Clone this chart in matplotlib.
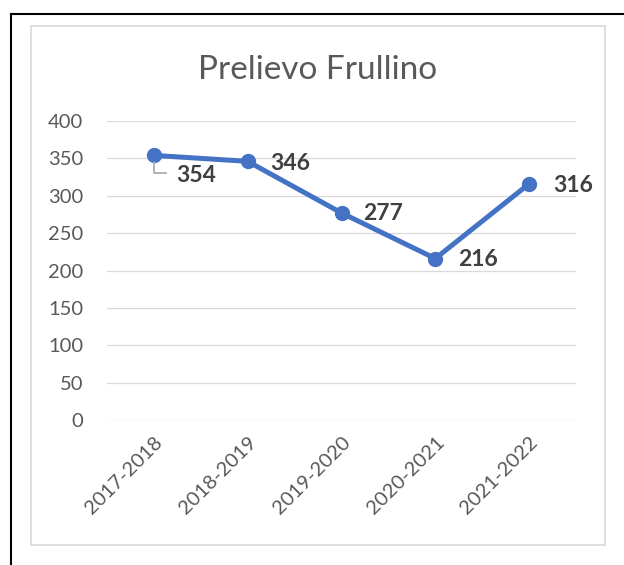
import matplotlib.pyplot as plt
from matplotlib.patches import Rectangle
from matplotlib.lines import Line2D

seasons = ['2017-2018', '2018-2019', '2019-2020', '2020-2021', '2021-2022']
prelievo = [354, 346, 277, 216, 316]
yticks = [0, 50, 100, 150, 200, 250, 300, 350, 400]

# label offsets in pixels (right of each point)
label_offsets = [(22, -20), (23, -2), (22, -1), (23, -1), (24, -2)]

W, H = 624, 565
plt.rcParams['font.family'] = ['Lato', 'DejaVu Sans']

fig = plt.figure(figsize=(W / 100, H / 100), dpi=100)

# outer black border (right/bottom run off the picture)
fig.add_artist(Rectangle((11 / W, -0.1), 1.2, 1 - 14 / H + 0.1,
                         transform=fig.transFigure, fill=False,
                         edgecolor='black', linewidth=1.5))
# grey chart frame
fig.add_artist(Rectangle((31 / W, 1 - 545 / H), (605 - 31) / W, (545 - 26) / H,
                         transform=fig.transFigure, fill=False,
                         edgecolor='#D9D9D9', linewidth=1.2))

ax = fig.add_axes([107 / W, 1 - 420 / H, (576 - 107) / W, (420 - 121) / H])
x = list(range(len(seasons)))
ax.plot(x, prelievo, color='#4472C4', linewidth=3.6, marker='o',
        markersize=10, solid_capstyle='round', solid_joinstyle='round', zorder=3)

ax.set_xlim(-0.5, len(seasons) - 0.5)
ax.set_ylim(0, 400)
ax.set_yticks(yticks)
ax.grid(axis='y', color='#D9D9D9', linewidth=0.9)
ax.set_axisbelow(True)
for s in ax.spines.values():
    s.set_visible(False)
ax.tick_params(length=0, colors='#595959', labelsize=14.5)
ax.tick_params(axis='y', pad=17)
ax.set_xticks(x)
ax.set_xticklabels(seasons, rotation=45, ha='right', rotation_mode='anchor')
ax.tick_params(axis='x', pad=10)

for i, v in enumerate(prelievo):
    dx, dy = label_offsets[i]
    ax.annotate(str(v), (i, v), xytext=(dx, dy), textcoords='offset pixels',
                ha='left', va='center', fontsize=16.5, fontweight='bold',
                color='#404040')

# leader line for the first label
t = ax.transData
px, py = t.transform((0, prelievo[0]))
inv = fig.transFigure.inverted()
p1 = inv.transform((px, py - 7))
p2 = inv.transform((px, py - 18))
p3 = inv.transform((px + 12, py - 18))
fig.add_artist(Line2D([p1[0], p2[0], p3[0]], [p1[1], p2[1], p3[1]],
                      color='#A6A6A6', linewidth=1.2))

fig.text(318 / W, 1 - 70 / H, 'Prelievo Frullino', ha='center', va='center',
         fontsize=24, color='#595959')

fig.savefig('out.png', dpi=100)
